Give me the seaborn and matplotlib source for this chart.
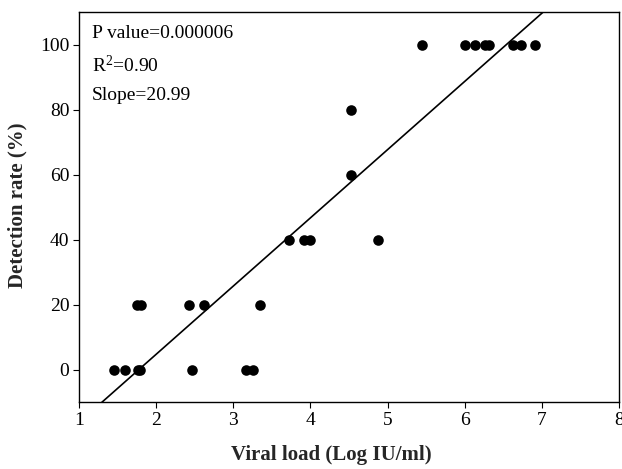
import numpy as np
import pandas as pd
import matplotlib
matplotlib.use("Agg")
import matplotlib.pyplot as plt
import seaborn as sns

# Data
viral_load = [1.45, 1.60, 1.77, 1.79, 2.47, 3.16, 3.26,
              1.75, 1.80, 2.42, 2.62, 3.35,
              3.72, 3.92, 4.00, 4.87,
              4.52,
              4.52,
              5.44, 6.00, 6.13, 6.26, 6.31, 6.62, 6.73, 6.91]
detection_rate = [0, 0, 0, 0, 0, 0, 0,
                  20, 20, 20, 20, 20,
                  40, 40, 40, 40,
                  60,
                  80,
                  100, 100, 100, 100, 100, 100, 100, 100]
fit_slope = 20.99
fit_intercept = -37.3
annotations = ["P value=0.000006", "R$^{2}$=0.90", "Slope=20.99"]
x_ticks = [1, 2, 3, 4, 5, 6, 7, 8]
y_ticks = [0, 20, 40, 60, 80, 100]

sns.set_style("ticks")
plt.rcParams["font.family"] = ["Liberation Serif", "DejaVu Serif"]
plt.rcParams["mathtext.fontset"] = "custom"
plt.rcParams["mathtext.rm"] = "Liberation Serif"
plt.rcParams["mathtext.it"] = "Liberation Serif:italic"
plt.rcParams["mathtext.bf"] = "Liberation Serif:bold"

fig = plt.figure(figsize=(6.22, 4.69), dpi=100)
ax = fig.add_axes([79 / 622, 1 - 402 / 469, 540 / 622, 390 / 469])

df = pd.DataFrame({"x": viral_load, "y": detection_rate})
sns.scatterplot(data=df, x="x", y="y", ax=ax, color="black", s=58,
                edgecolor="black", linewidth=0, zorder=3)

xlim = (1, 8)
line_x = np.array(xlim, dtype=float)
line_df = pd.DataFrame({"x": line_x, "y": fit_slope * line_x + fit_intercept})
sns.lineplot(data=line_df, x="x", y="y", ax=ax, color="black", linewidth=1.2)

ax.set_xlim(*xlim)
ax.set_ylim(-10, 110)
ax.set_xticks(x_ticks)
ax.set_yticks(y_ticks)
ax.tick_params(axis="both", direction="out", length=4, width=0.8,
               labelsize=14, colors="black", pad=3)
for sp in ax.spines.values():
    sp.set_visible(True)
    sp.set_linewidth(1.0)
    sp.set_color("black")

ax.set_xlabel("Viral load (Log IU/ml)", fontsize=15, fontweight="bold")
ax.set_ylabel("Detection rate (%)", fontsize=15, fontweight="bold")
ax.xaxis.set_label_coords(0.4676, -0.136)
ax.yaxis.set_label_coords(-0.113, 0.505)
ax.xaxis.label.set_va("center")
ax.yaxis.label.set_va("center")

ypos = [0.946, 0.862, 0.787]
for txt, yy in zip(annotations, ypos):
    ax.text(0.024, yy, txt, transform=ax.transAxes, fontsize=14,
            va="center", ha="left", color="black")

fig.savefig("out.png", dpi=100)
